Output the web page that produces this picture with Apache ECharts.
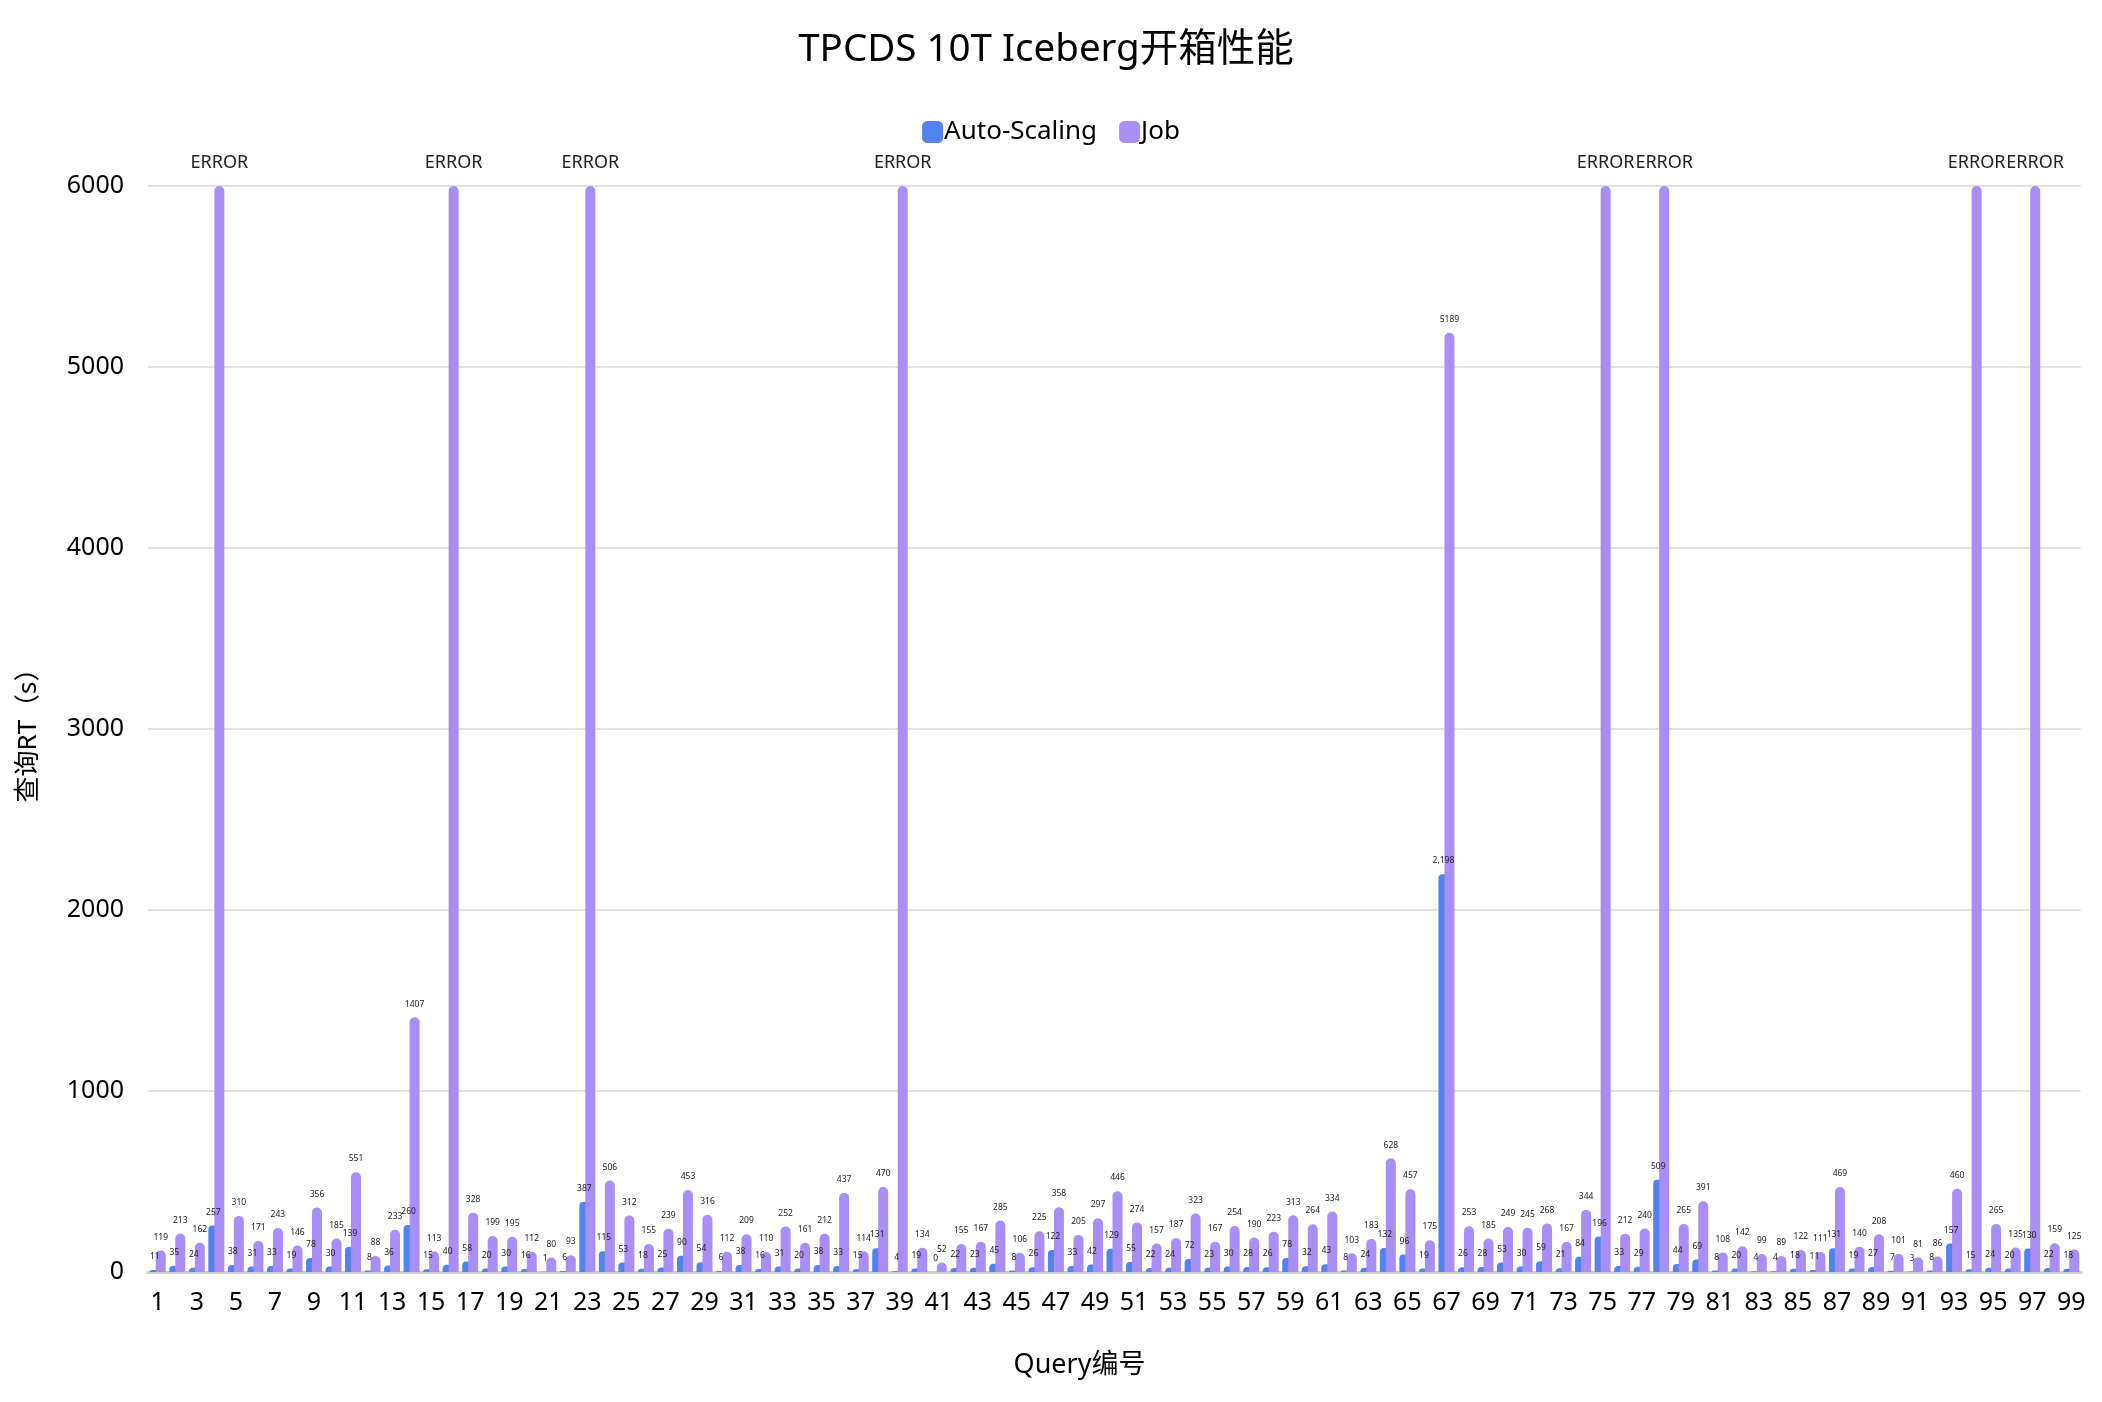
<!DOCTYPE html>
<html>
<head>
<meta charset="utf-8">
<title>TPCDS 10T Iceberg</title>
<script src="https://cdn.jsdelivr.net/npm/echarts@6/dist/echarts.min.js"></script>
<style>
  html, body { margin: 0; padding: 0; background: #fff; }
  #chart { width: 2102px; height: 1402px; }
</style>
</head>
<body>
<div id="chart"></div>
<script>
// Query numbers 1..99
var queries = [];
for (var q = 1; q <= 99; q++) queries.push(String(q));

// Auto-Scaling query RT (s)
var autoScaling = [
  11, 35, 24, 257, 38, 31, 33, 19, 78, 30,
  139, 8, 36, 260, 15, 40, 58, 20, 30, 16,
  1, 6, 387, 115, 53, 18, 25, 90, 54, 6,
  38, 16, 31, 20, 38, 33, 15, 131, 4, 19,
  0, 22, 23, 45, 8, 26, 122, 33, 42, 129,
  55, 22, 24, 72, 23, 30, 28, 26, 78, 32,
  43, 8, 24, 132, 96, 19, 2198, 26, 28, 53,
  30, 59, 21, 84, 196, 33, 29, 509, 44, 69,
  8, 20, 4, 4, 18, 11, 131, 19, 27, 7,
  3, 8, 157, 15, 24, 20, 130, 22, 18
];

// Job query RT (s); 'ERROR' = query failed
var job = [
  119, 213, 162, 'ERROR', 310, 171, 243, 146, 356, 185,
  551, 88, 233, 1407, 113, 'ERROR', 328, 199, 195, 112,
  80, 93, 'ERROR', 506, 312, 155, 239, 453, 316, 112,
  209, 110, 252, 161, 212, 437, 114, 470, 'ERROR', 134,
  52, 155, 167, 285, 106, 225, 358, 205, 297, 446,
  274, 157, 187, 323, 167, 254, 190, 223, 313, 264,
  334, 103, 183, 628, 457, 175, 5189, 253, 185, 249,
  245, 268, 167, 344, 'ERROR', 212, 240, 'ERROR', 265, 391,
  108, 142, 99, 89, 122, 111, 469, 140, 208, 101,
  81, 86, 460, 'ERROR', 265, 135, 'ERROR', 159, 125
];

var ERROR_HEIGHT = 6000; // failed queries are drawn up to the axis max

var FONT = '"Noto Sans", "Noto Sans CJK SC", sans-serif';

var jobData = job.map(function (v) {
  if (v === 'ERROR') {
    return {
      value: ERROR_HEIGHT,
      label: { formatter: 'ERROR', fontSize: 18, distance: 14 }
    };
  }
  return v;
});

var myChart = echarts.init(document.getElementById('chart'));

var option = {
  backgroundColor: '#fff',
  animation: false,
  title: {
    text: 'TPCDS 10T Iceberg开箱性能',
    left: 1041,
    textAlign: 'center',
    top: 26,
    textStyle: { fontFamily: FONT, fontSize: 38.5, fontWeight: 'normal', color: '#000' }
  },
  legend: {
    top: 114,
    left: 'center',
    itemWidth: 21,
    itemHeight: 22,
    itemGap: 22,
    icon: 'roundRect',
    textStyle: { fontFamily: FONT, fontSize: 26, color: '#000', padding: [0, 0, 0, -4] },
    data: ['Auto-Scaling', 'Job']
  },
  grid: {
    left: 148,
    right: 21,
    top: 186,
    bottom: 130
  },
  xAxis: {
    type: 'category',
    data: queries,
    name: 'Query编号',
    nameLocation: 'middle',
    nameGap: 80,
    nameTextStyle: { fontFamily: FONT, fontSize: 27, color: '#000', padding: [0, 70, 0, 0] },
    axisLine: { lineStyle: { color: '#cfcfcf', width: 3 } },
    axisTick: { show: false },
    axisLabel: {
      interval: 1,
      margin: 18,
      fontFamily: FONT,
      fontSize: 25,
      color: '#000'
    }
  },
  yAxis: {
    type: 'value',
    min: 0,
    max: 6000,
    interval: 1000,
    name: '查询RT（s）',
    nameLocation: 'middle',
    nameGap: 106,
    nameTextStyle: { fontFamily: FONT, fontSize: 26, color: '#000' },
    axisLine: { show: false },
    axisTick: { show: false },
    axisLabel: {
      margin: 24,
      fontFamily: FONT,
      fontSize: 25,
      color: '#000',
      formatter: function (v) { return String(v); }
    },
    splitLine: { lineStyle: { color: '#d9d9d9', width: 1.5 } }
  },
  series: [
    {
      name: 'Auto-Scaling',
      type: 'bar',
      data: autoScaling,
      barWidth: 10,
      barGap: '-40%',
      itemStyle: { color: '#5383F1', borderRadius: [4, 4, 0, 0] },
      label: {
        show: true,
        position: 'top',
        distance: 9,
        fontFamily: FONT,
        fontSize: 8.5,
        color: '#222',
        formatter: function (p) { return Number(p.value).toLocaleString('en-US'); }
      }
    },
    {
      name: 'Job',
      type: 'bar',
      data: jobData,
      barWidth: 10,
      itemStyle: { color: '#A98EF8', borderRadius: [5, 5, 0, 0] },
      label: {
        show: true,
        position: 'top',
        distance: 9,
        fontFamily: FONT,
        fontSize: 8.5,
        color: '#222'
      }
    }
  ]
};

myChart.setOption(option);
</script>
</body>
</html>
